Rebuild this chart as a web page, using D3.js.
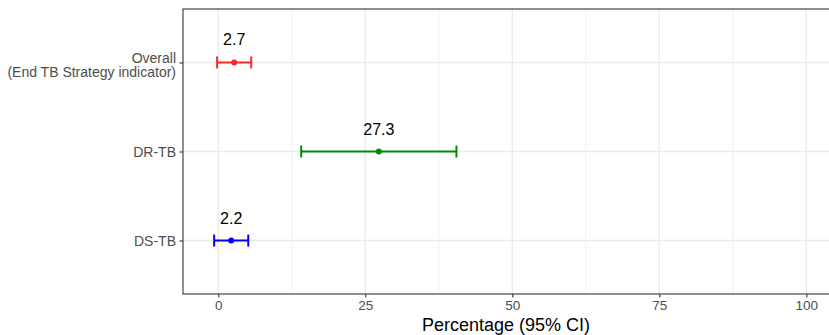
<!DOCTYPE html>
<html>
<head>
<meta charset="utf-8">
<script src="https://cdn.jsdelivr.net/npm/d3@7"></script>
<style>
  html, body { margin: 0; padding: 0; background: #fff; }
  svg { display: block; font-family: "Liberation Sans", Arial, sans-serif; }
</style>
</head>
<body>
<svg id="chart" width="829" height="335"></svg>
<script>
// Indicator groups, top to bottom
const categories = ["Overall\n(End TB Strategy indicator)", "DR-TB", "DS-TB"];
const estimates = [2.7, 27.3, 2.2];
const lowerCI = [-0.2, 14.1, -0.7];
const upperCI = [5.6, 40.5, 5.1];
const colors = ["#EE2C2C", "#008B00", "#0000FF"];
const xTicks = [0, 25, 50, 75, 100];
const xMinorTicks = [12.5, 37.5, 62.5, 87.5];
const xTitle = "Percentage (95% CI)";

const svg = d3.select("#chart");
const panel = { left: 183, top: 9, right: 850, bottom: 294 };

const x = d3.scaleLinear().domain([-6, 100]).range([panel.left, 806.3]);
const y = d3.scalePoint().domain(categories).range([panel.top, panel.bottom]).padding(0.6);

const rows = categories.map((c, i) => ({
  cat: c, est: estimates[i], lo: lowerCI[i], hi: upperCI[i], color: colors[i]
}));

// Panel background
svg.append("rect")
  .attr("x", panel.left).attr("y", panel.top)
  .attr("width", panel.right - panel.left).attr("height", panel.bottom - panel.top)
  .attr("fill", "#fff");

const grid = svg.append("g");
// Minor vertical grid
grid.selectAll("line.minor").data(xMinorTicks).join("line")
  .attr("x1", d => x(d)).attr("x2", d => x(d))
  .attr("y1", panel.top).attr("y2", panel.bottom)
  .attr("stroke", "#EBEBEB").attr("stroke-width", 0.8);
// Major vertical grid
grid.selectAll("line.major").data(xTicks).join("line")
  .attr("x1", d => x(d)).attr("x2", d => x(d))
  .attr("y1", panel.top).attr("y2", panel.bottom)
  .attr("stroke", "#EBEBEB").attr("stroke-width", 1.4);
// Horizontal grid at each category
grid.selectAll("line.h").data(categories).join("line")
  .attr("x1", panel.left).attr("x2", panel.right)
  .attr("y1", d => y(d)).attr("y2", d => y(d))
  .attr("stroke", "#EBEBEB").attr("stroke-width", 1.4);

// Error bars
const capH = 6;
const bars = svg.append("g").selectAll("g").data(rows).join("g");
bars.append("line")
  .attr("x1", d => x(d.lo)).attr("x2", d => x(d.hi))
  .attr("y1", d => y(d.cat)).attr("y2", d => y(d.cat))
  .attr("stroke", d => d.color).attr("stroke-width", 2);
bars.append("line")
  .attr("x1", d => x(d.lo)).attr("x2", d => x(d.lo))
  .attr("y1", d => y(d.cat) - capH).attr("y2", d => y(d.cat) + capH)
  .attr("stroke", d => d.color).attr("stroke-width", 2);
bars.append("line")
  .attr("x1", d => x(d.hi)).attr("x2", d => x(d.hi))
  .attr("y1", d => y(d.cat) - capH).attr("y2", d => y(d.cat) + capH)
  .attr("stroke", d => d.color).attr("stroke-width", 2);
bars.append("circle")
  .attr("cx", d => x(d.est)).attr("cy", d => y(d.cat))
  .attr("r", 3).attr("fill", d => d.color);
// Value labels
bars.append("text")
  .attr("x", d => x(d.est)).attr("y", d => y(d.cat) - 17)
  .attr("text-anchor", "middle")
  .attr("font-size", 16).attr("fill", "#000")
  .text(d => d.est.toFixed(1));

// Panel border
svg.append("rect")
  .attr("x", panel.left).attr("y", panel.top)
  .attr("width", panel.right - panel.left).attr("height", panel.bottom - panel.top)
  .attr("fill", "none").attr("stroke", "#333333").attr("stroke-width", 1.1);

// X axis
const xAxis = svg.append("g")
  .attr("transform", `translate(0,${panel.bottom})`)
  .call(d3.axisBottom(x).tickValues(xTicks).tickSize(3.5).tickPadding(3).tickFormat(d3.format("d")));
xAxis.select(".domain").remove();
xAxis.selectAll(".tick line").attr("stroke", "#333333").attr("stroke-width", 1.1);
xAxis.selectAll(".tick text")
  .attr("fill", "#4D4D4D").attr("font-size", 13.5)
  .attr("font-family", "Liberation Sans, Arial, sans-serif");

// Y axis
const yAxis = svg.append("g")
  .attr("transform", `translate(${panel.left},0)`)
  .call(d3.axisLeft(y).tickSize(3.5).tickPadding(4).tickFormat(""));
yAxis.select(".domain").remove();
yAxis.selectAll(".tick line").attr("stroke", "#333333").attr("stroke-width", 1.1);
yAxis.selectAll(".tick").each(function(d) {
  const lines = d.split("\n");
  const t = d3.select(this).select("text")
    .attr("fill", "#4D4D4D").attr("font-size", 14)
    .attr("font-family", "Liberation Sans, Arial, sans-serif")
    .attr("x", -7).attr("dy", null).attr("text-anchor", "end");
  const lh = 14.5;
  const start = -(lines.length - 1) * lh / 2 + (lines.length > 1 ? 2.5 : 0);
  lines.forEach((ln, i) => {
    t.append("tspan").attr("x", -7)
      .attr("y", start + i * lh).attr("dy", "0.34em").text(ln);
  });
});

// X axis title
svg.append("text")
  .attr("x", 506).attr("y", 331)
  .attr("text-anchor", "middle")
  .attr("font-size", 18).attr("fill", "#000")
  .text(xTitle);
</script>
</body>
</html>
